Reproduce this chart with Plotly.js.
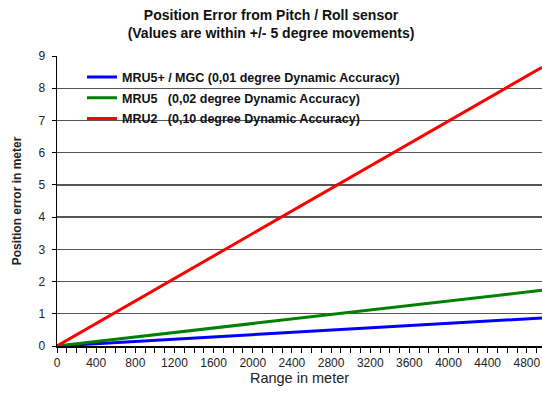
<!DOCTYPE html>
<html><head><meta charset="utf-8">
<script src="https://cdn.plot.ly/plotly-3.0.1.min.js"></script>
<style>body{margin:0;background:#fff}#c{width:542px;height:394px}</style>
</head><body><div id="c"></div>
<script>
var rangeMeters = [0, 4955];
var mru5plus = [0, 0.87];
var mru5 = [0, 1.73];
var mru2 = [0, 8.65];
var seriesNames = [
  "MRU5+ / MGC (0,01 degree Dynamic Accuracy)",
  "MRU5\u00A0\u00A0\u00A0(0,02 degree Dynamic Accuracy)",
  "MRU2\u00A0\u00A0\u00A0(0,10 degree Dynamic Accuracy)"
];
var colors = ["#0000ff", "#008000", "#ff0000"];
var ys = [mru5plus, mru5, mru2];
var traces = ys.map(function(y, i){
  return {x: rangeMeters, y: y, mode: 'lines', name: seriesNames[i], legendgroup: 'g' + i,
          line: {color: colors[i], width: 3}};
});
var layout = {
  width: 542, height: 394,
  margin: {l: 57, r: 0, t: 56, b: 48},
  paper_bgcolor: '#fff', plot_bgcolor: '#fff',
  font: {family: 'Liberation Sans, Arial, sans-serif', size: 12, color: '#222'},
  title: {text: '<b>Position Error from Pitch / Roll sensor<br>(Values are within +/- 5 degree movements)</b>',
          font: {size: 14, color: '#111'}, x: 0.5, xanchor: 'center', y: 0.95, yanchor: 'top', yref: 'container'},
  xaxis: {range: [0, 4955], dtick: 400, tick0: 0, showgrid: false, zeroline: false,
          showline: true, linecolor: '#000', linewidth: 1.5, ticks: 'outside', ticklen: 5, tickcolor: '#000',
          minor: {dtick: 100, ticks: 'outside', ticklen: 5, tickcolor: '#000'},
          title: {text: 'Range in meter', font: {size: 14.5}, standoff: 4}},
  yaxis: {range: [0, 9], dtick: 1, showgrid: true, gridcolor: '#555', gridwidth: 1.3, zeroline: false,
          showline: true, linecolor: '#000', linewidth: 1.5, ticks: 'outside', ticklen: 4, tickcolor: '#000',
          ticklabelstandoff: 4,
          title: {text: '<b>Position error in meter</b>', font: {size: 12}, standoff: 14}},
  legend: {x: 0.0515, y: 0.978, xanchor: 'left', yanchor: 'top', bgcolor: 'rgba(0,0,0,0)', borderwidth: 0,
           font: {size: 12.5, color: '#111', family: 'Liberation Sans, Arial, sans-serif', weight: 'bold'},
           itemwidth: 30, traceorder: 'grouped', tracegroupgap: 1.5},
  shapes: [{type: 'rect', xref: 'paper', yref: 'paper', layer: 'between',
            x0: 0.0165, x1: 0.763, y0: 0.73, y1: 0.985, fillcolor: '#fff', line: {width: 0}}],
  showlegend: true
};
Plotly.newPlot('c', traces, layout, {displayModeBar: false, staticPlot: true});
</script></body></html>
